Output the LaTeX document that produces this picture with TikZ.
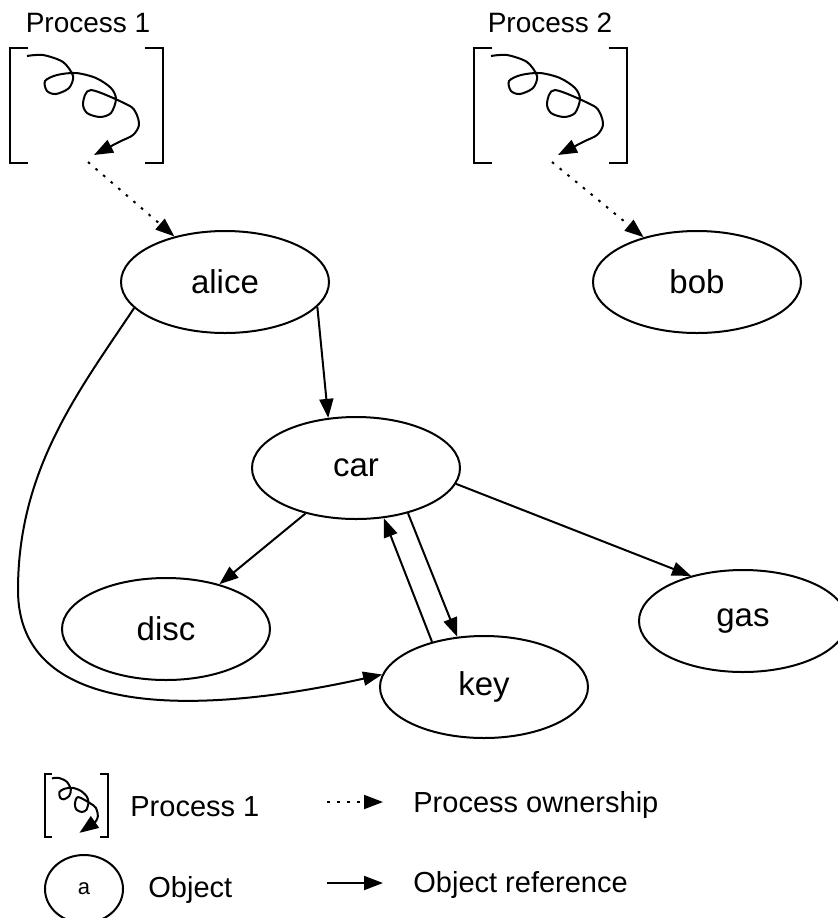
\documentclass[tikz,border=0pt]{standalone}
\usepackage{fontspec}
\setmainfont{Liberation Sans}
\usetikzlibrary{shapes.geometric}
\usetikzlibrary{arrows.meta}

\tikzset{
  obj/.style={ellipse, draw, line width=1pt, minimum width=104pt, minimum height=51pt,
    inner sep=0pt, font=\fontsize{16.5}{19}\selectfont},
  txt/.style={inner sep=0pt, font=\fontsize{14}{16}\selectfont},
  ref/.style={line width=1pt, -{Triangle[length=9.5pt,width=7pt]}},
  own/.style={ref, dash pattern=on 1.3pt off 3.7pt},
  proc/.pic={
    \draw[line width=1pt] (18,0) -- (0,0) -- (0,115) -- (18,115);
    \draw[line width=1pt] (135,0) -- (153,0) -- (153,115) -- (135,115);
    \draw[ref] plot[smooth] coordinates {(17,8) (33,7) (53,14) (63,28) (59,40) (46,46)
      (37,43) (35,33) (47,27) (66,25) (86,30) (101,40) (106,51) (101,65) (90,69)
      (77,65) (73,55) (81,42) (118,57) (126,65) (129,77) (123,87) (109,94) (84,107)};
    \coordinate (-out) at (78,114);
  }
}

\begin{document}
\begin{tikzpicture}[x=0.5pt, y=-0.5pt]
                \useasboundingbox (0,0) rectangle (838,918);

                \pic (p1) at (10,48) {proc};
                \pic (p2) at (474,48) {proc};

                \node[txt, anchor=base] (n1) at (88,32) {Process 1};
                \node[txt, anchor=base] (n2) at (550,32) {Process 2};

                \node[obj] (alice) at (225,282) {alice};
                \node[obj] (bob) at (697,282) {bob};
                \node[obj] (car) at (356,468) {car};
                \node[obj] (disc) at (166,629) {disc};
                \node[obj] (gas) at (743,621) {gas};
                \node[obj] (key) at (484,687) {key};

                \draw[own] (p1-out) -- (alice.138);
                \draw[own] (p2-out) -- (bob.140);

                \draw[ref] (alice.-15) -- (car.119);
                \draw[ref] (car.222) -- (disc.40);
                \draw[ref] (car.-9) -- (gas.139);
                \draw[ref] (key.139) -- (car.-61);
                \draw[ref] (car.-41) -- (key.118);
                \draw[ref] (alice.196) .. controls (78,392) and (18,470) .. (18,590)
                    .. controls (18,720) and (200,715) .. (key.173);

                % legend
                \pic[xscale=0.41, yscale=0.55] (lg) at (45,774) {proc};
                \node[txt, anchor=base west, font=\fontsize{14.5}{16}\selectfont] (l1) at (130,816) {Process 1};

                \coordinate (o1) at (327,802);
                \coordinate (o2) at (383,802);
                \draw[own] (o1) -- (o2);
                \node[txt, anchor=base west, font=\fontsize{14.5}{16}\selectfont] (l2) at (413,812) {Process ownership};

                \node[obj, minimum width=39pt, minimum height=34pt, font=\fontsize{11}{13}\selectfont] (lo) at (84,889) {a};
                \node[txt, anchor=base west, font=\fontsize{14.5}{16}\selectfont] (l3) at (148,897) {Object};

                \coordinate (r1) at (327,883);
                \coordinate (r2) at (383,883);
                \draw[ref] (r1) -- (r2);
                \node[txt, anchor=base west, font=\fontsize{14.5}{16}\selectfont] (l4) at (413,892) {Object reference};
\end{tikzpicture}
\end{document}
